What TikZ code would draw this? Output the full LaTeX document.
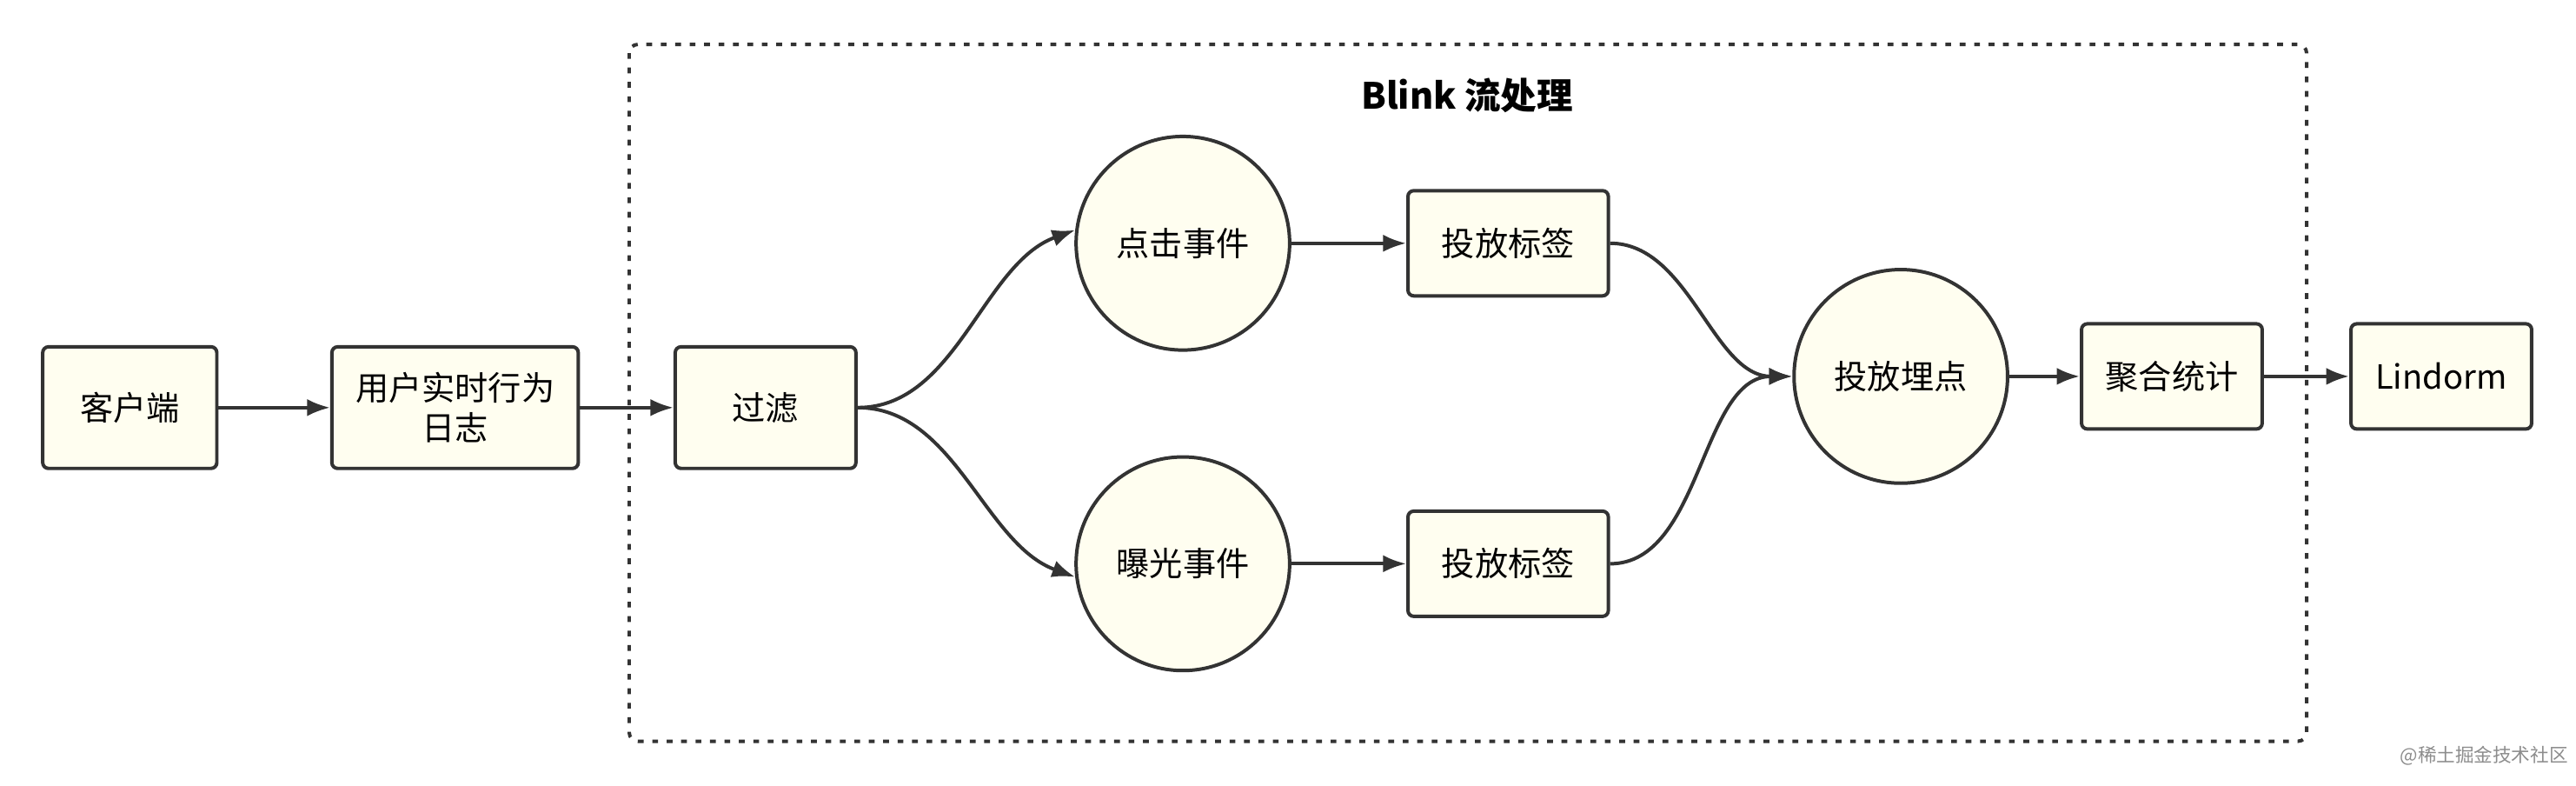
\documentclass[tikz,border=0pt]{standalone}
\usepackage{fontspec}
\setmainfont{Noto Sans CJK SC}
\usetikzlibrary{arrows.meta}
\begin{document}
\begin{tikzpicture}[x=0.02cm,y=-0.02cm,
  box/.style={draw=black!80,line width=1.2pt,fill=yellow!6,rounded corners=2pt,minimum height=1.48cm,align=center,font=\fontsize{11.5}{14}\selectfont},
  circ/.style={draw=black!80,line width=1.2pt,fill=yellow!6,circle,minimum size=2.6cm,font=\fontsize{11.5}{14}\selectfont},
  arr/.style={draw=black!80,line width=1.2pt,-{Latex[length=8pt,width=6pt]}}]
\useasboundingbox (0,0) rectangle (1568,478);
\draw[line width=1.2pt,dash pattern=on 2pt off 3pt,rounded corners=3pt,black!80] (383,27) rectangle (1404,451);
\node[font=\bfseries\fontsize{12.5}{15}\selectfont] (t) at (893,58) {Blink 流处理};
\node[box,minimum width=2.12cm] (a) at (79,248) {客户端};
\node[box,minimum width=3cm] (b) at (277,248) {用户实时行为\\日志};
\node[box,minimum width=2.2cm] (c) at (466,248) {过滤};
\node[circ] (d) at (720,148) {点击事件};
\node[circ] (e) at (720,343) {曝光事件};
\node[box,minimum width=2.44cm,minimum height=1.28cm] (f) at (918,148) {投放标签};
\node[box,minimum width=2.44cm,minimum height=1.28cm] (g) at (918,343) {投放标签};
\node[circ] (h) at (1157,229) {投放埋点};
\node[box,minimum width=2.2cm,minimum height=1.28cm] (i) at (1322,229) {聚合统计};
\node[box,minimum width=2.2cm,minimum height=1.28cm] (j) at (1486,229) {Lindorm};
\node[text=black!45,font=\fontsize{6.5}{8}\selectfont] (w) at (1512,460) {@稀土掘金技术社区};
\draw[arr] (a) -- (b);
\draw[arr] (b) -- (c);
\draw[arr] (c.east) to[out=0,in=200,looseness=0.9] (d.173);
\draw[arr] (c.east) to[out=0,in=160,looseness=0.9] (e.187);
\draw[arr] (d) -- (f);
\draw[arr] (e) -- (g);
\draw[arr] (f.east) to[out=0,in=180,looseness=0.9] (h.west);
\draw[arr] (g.east) to[out=0,in=180,looseness=0.9] (h.west);
\draw[arr] (h) -- (i);
\draw[arr] (i) -- (j);
\end{tikzpicture}
\end{document}
